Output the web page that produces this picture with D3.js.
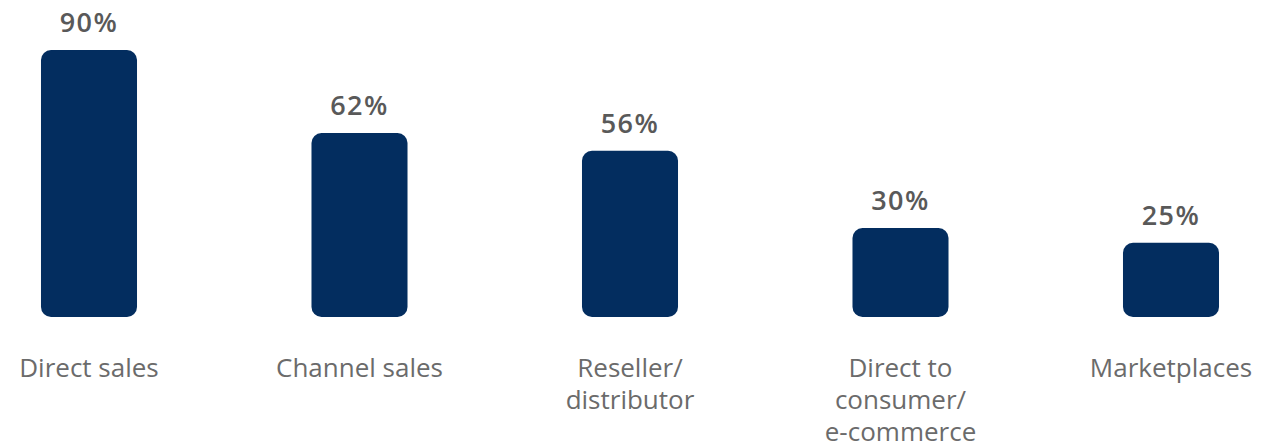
<!DOCTYPE html>
<html>
<head>
<meta charset="utf-8">
<script src="https://cdn.jsdelivr.net/npm/d3@7"></script>
<style>
  html, body { margin: 0; padding: 0; background: #ffffff; }
  svg { display: block; }
</style>
</head>
<body>
<svg id="chart" width="1266" height="445"></svg>
<script>
// Sales channels and share of respondents using each one
const categories = ["Direct sales", "Channel sales", "Reseller/\ndistributor", "Direct to\nconsumer/\ne-commerce", "Marketplaces"];
const values = [90, 62, 56, 30, 25];

const width = 1266, height = 445;
const svg = d3.select("#chart");

const x = d3.scaleBand()
  .domain(categories)
  .range([-46.25, 1306.25])
  .paddingInner(0.645)
  .paddingOuter(0.3225);

const y = d3.scaleLinear()
  .domain([0, 90])
  .range([317, 50]);

const barColor = "#032d5f";
const font = "'Open Sans', Lato, sans-serif";

const data = categories.map((c, i) => ({ c, v: values[i] }));
const cx = d => x(d.c) + x.bandwidth() / 2;

svg.selectAll("rect.bar")
  .data(data)
  .join("rect")
  .attr("class", "bar")
  .attr("x", d => x(d.c))
  .attr("y", d => y(d.v))
  .attr("width", x.bandwidth())
  .attr("height", d => y(0) - y(d.v))
  .attr("rx", 10)
  .attr("ry", 10)
  .attr("fill", barColor);

svg.selectAll("text.value")
  .data(data)
  .join("text")
  .attr("class", "value")
  .attr("x", cx)
  .attr("y", d => y(d.v) - 18)
  .attr("text-anchor", "middle")
  .attr("font-family", font)
  .attr("font-weight", 600)
  .attr("font-size", 27)
  .attr("letter-spacing", 1.5)
  .attr("fill", "#595959")
  .text(d => d.v + "%");

const labels = svg.selectAll("text.cat")
  .data(data)
  .join("text")
  .attr("class", "cat")
  .attr("x", cx)
  .attr("y", 377)
  .attr("text-anchor", "middle")
  .attr("font-family", font)
  .attr("font-weight", 400)
  .attr("font-size", 26)
  .attr("fill", "#6b6b6b");

labels.selectAll("tspan")
  .data(d => d.c.split("\n").map((t, i) => ({ t, i })))
  .join("tspan")
  .attr("x", function () { return d3.select(this.parentNode).attr("x"); })
  .attr("dy", d => d.i === 0 ? 0 : 32)
  .text(d => d.t);
</script>
</body>
</html>
